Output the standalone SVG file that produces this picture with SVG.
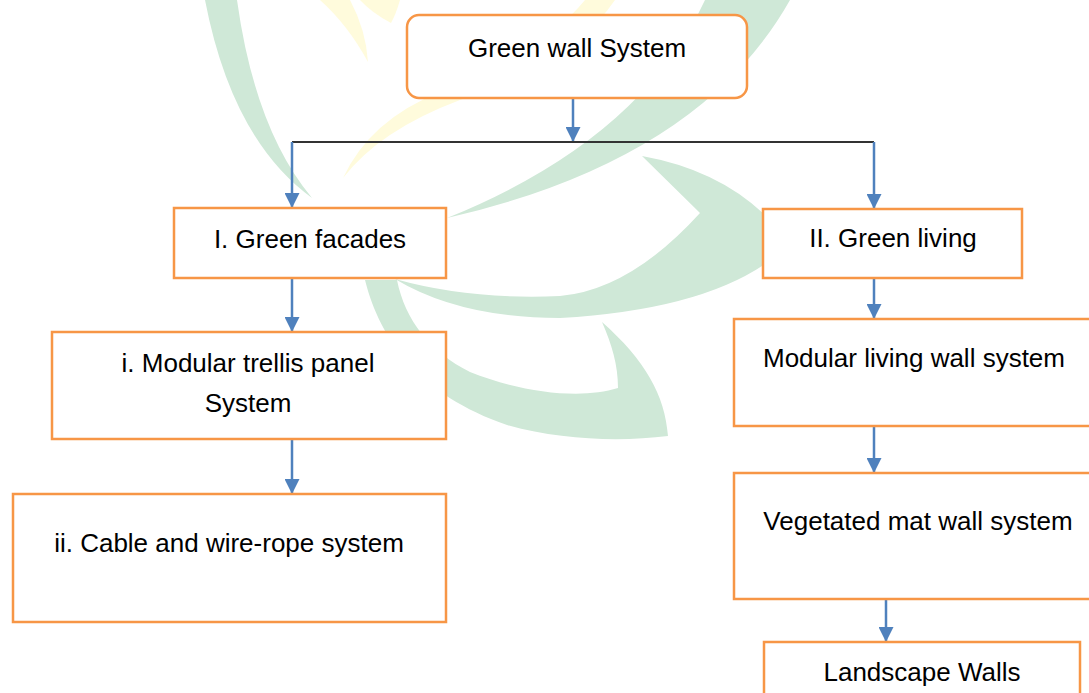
<svg xmlns="http://www.w3.org/2000/svg" width="1089" height="693" viewBox="0 0 1089 693">
<style>
.bg{fill:#ffffff}
.wg{fill:#cfe8d7}
.wy{fill:#fffbdc}
.box{fill:#ffffff;stroke:#f79646;stroke-width:2.5}
.lbl{font-family:"Liberation Sans",Arial,sans-serif;font-size:26px;fill:#000000;text-anchor:middle}
.arr{stroke:#4f81bd;stroke-width:2.5;fill:none;marker-end:url(#ah)}
.bus{stroke:#333333;stroke-width:1.8;fill:none}
</style>
<defs>
<marker id="ah" viewBox="0 0 10 10" refX="10" refY="5" markerWidth="6" markerHeight="6" markerUnits="strokeWidth" orient="auto">
<path d="M0,0 L10,5 L0,10 Z" fill="#4f81bd"/>
</marker>
</defs>
<rect class="bg" x="0" y="0" width="1089" height="693"/>
<g id="watermark">
<path class="wy" d="M320,0 L350,0 Q366,30 368,62 Q348,25 320,0 Z"/>
<path class="wy" d="M360,0 L400,0 Q396,14 391,23 Q372,13 360,0 Z"/>
<path class="wy" d="M343,178 Q370,120 440,92 Q540,55 585,0 L615,0 Q575,60 460,100 Q380,130 343,178 Z"/>
<path class="wg" d="M205,0 L237,0 Q255,130 312,198 Q232,140 205,0 Z"/>
<path class="wg" d="M705,0 L790,0 Q700,160 447,218 Q640,140 705,0 Z"/>
<path class="wg" d="M642,156 Q720,170 768,218 L768,262 Q700,310 560,318 Q460,318 395,279 Q470,300 560,296 Q630,290 700,213 Z"/>
<path class="wg" d="M365,280 C380,340 420,395 507,425 C560,440 620,442 668,436 C665,395 645,360 602,322 C612,345 618,365 618,388 C580,400 520,392 470,372 C430,352 405,320 397,280 Z"/>
</g>
<g id="connectors">
<line class="arr" x1="573" y1="98" x2="573" y2="142"/>
<polyline class="bus" points="292,142 874,142"/>
<line class="arr" x1="292" y1="142" x2="292" y2="208"/>
<line class="arr" x1="874" y1="142" x2="874" y2="209"/>
<line class="arr" x1="292" y1="278" x2="292" y2="332"/>
<line class="arr" x1="292" y1="439" x2="292" y2="494"/>
<line class="arr" x1="874" y1="278" x2="874" y2="319"/>
<line class="arr" x1="874" y1="426" x2="874" y2="473"/>
<line class="arr" x1="886" y1="599" x2="886" y2="642"/>
</g>
<g id="n-root">
<rect class="box" x="407" y="15" width="340" height="83" rx="12"/>
<text class="lbl" x="577" y="57">Green wall System</text>
</g>
<g id="n-facades">
<rect class="box" x="174" y="208" width="272" height="70"/>
<text class="lbl" x="310" y="248">I. Green facades</text>
</g>
<g id="n-living">
<rect class="box" x="763" y="209" width="259" height="69"/>
<text class="lbl" x="893" y="247">II. Green living</text>
</g>
<g id="n-trellis">
<rect class="box" x="52" y="332" width="394" height="107"/>
<text class="lbl" x="248" y="372">i. Modular trellis panel</text>
<text class="lbl" x="248" y="412">System</text>
</g>
<g id="n-cable">
<rect class="box" x="13" y="494" width="433" height="128"/>
<text class="lbl" x="229" y="552">ii. Cable and wire-rope system</text>
</g>
<g id="n-modular">
<rect class="box" x="734" y="319" width="370" height="107"/>
<text class="lbl" x="914" y="367">Modular living wall system</text>
</g>
<g id="n-mat">
<rect class="box" x="734" y="473" width="370" height="126"/>
<text class="lbl" x="918" y="530">Vegetated mat wall system</text>
</g>
<g id="n-landscape">
<rect class="box" x="764" y="642" width="316" height="70"/>
<text class="lbl" x="922" y="681">Landscape Walls</text>
</g>
</svg>
